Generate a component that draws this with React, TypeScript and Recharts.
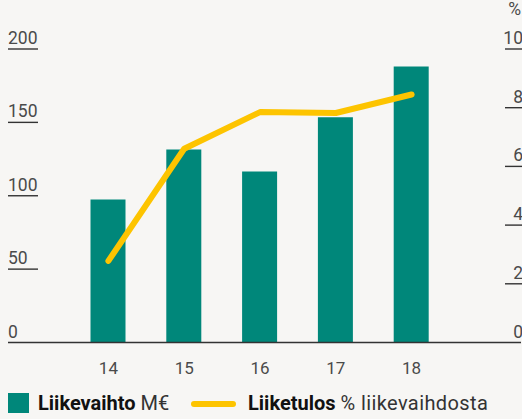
import React from "react";
import { ComposedChart, Bar, Line, XAxis, YAxis } from "recharts";

const years = ["14", "15", "16", "17", "18"];
const revenue = [97.5, 131.5, 116.5, 153.5, 188];
const operatingMargin = [2.78, 6.6, 7.85, 7.82, 8.45];
const leftTicks = [0, 50, 100, 150, 200];
const rightTicks = [0, 2, 4, 6, 8, 10];

const data = years.map((y, i) => ({ year: y, revenue: revenue[i], margin: operatingMargin[i] }));

const BG = "#f7f6f4";
const TEAL = "#00877a";
const YELLOW = "#fdc400";
const FONT = "Roboto, 'Noto Sans', sans-serif";
const TICK_COLOR = "#4a4a4a";

const renderLeftTick = (props: any) => {
  const { x, y, payload } = props;
  return (
    <g key={`l-${payload.value}`}>
      <text x={x} y={y - 5} fontSize={17.5} fontFamily={FONT} fill={TICK_COLOR} textAnchor="start">
        {payload.value}
      </text>
      {payload.value !== 0 && <line x1={x} x2={x + 30} y1={y} y2={y} stroke="#333" strokeWidth={1.4} />}
    </g>
  );
};

const renderRightTick = (props: any) => {
  const { x, y, payload } = props;
  return (
    <g key={`r-${payload.value}`}>
      <text x={x + 2} y={y - 5} fontSize={17.5} fontFamily={FONT} fill={TICK_COLOR} textAnchor="end">
        {payload.value}
      </text>
      {payload.value !== 0 && <line x1={x - 16} x2={x + 1} y1={y} y2={y} stroke="#333" strokeWidth={1.4} />}
    </g>
  );
};

const renderBottomTick = (props: any) => {
  const { x, y, payload } = props;
  return (
    <text key={`b-${payload.value}`} x={x} y={y + 31} fontSize={17} fontFamily={FONT} fill={TICK_COLOR} textAnchor="middle">
      {payload.value}
    </text>
  );
};

export default function App() {
  return (
    <div style={{ position: "absolute", left: 0, top: 0, width: 522, height: 419, background: BG, overflow: "hidden", fontFamily: FONT }}>
      <div style={{ position: "absolute", right: 1, top: 1, fontSize: 17.5, lineHeight: "17.5px", color: TICK_COLOR }}>%</div>
      <ComposedChart
        width={522}
        height={419}
        data={data}
        margin={{ top: 49, right: 0, bottom: 0, left: 7 }}
        barCategoryGap={0}
      >
        <XAxis
          dataKey="year"
          height={76.5}
          tickSize={0}
          tickMargin={0}
          tickLine={false}
          axisLine={{ stroke: "#333", strokeWidth: 1.6 }}
          padding={{ left: 62.5, right: 71.5 }}
          tick={renderBottomTick}
          interval={0}
        />
        <YAxis
          yAxisId="left"
          orientation="left"
          width={1}
          domain={[0, 200]}
          ticks={leftTicks}
          tickSize={0}
          tickMargin={0}
          axisLine={false}
          tickLine={false}
          tick={renderLeftTick}
          interval={0}
        />
        <YAxis
          yAxisId="right"
          orientation="right"
          width={1}
          domain={[0, 10]}
          ticks={rightTicks}
          tickSize={0}
          tickMargin={0}
          axisLine={false}
          tickLine={false}
          tick={renderRightTick}
          interval={0}
        />
        <Bar yAxisId="left" dataKey="revenue" fill={TEAL} barSize={35} isAnimationActive={false} />
        <Line
          yAxisId="right"
          dataKey="margin"
          stroke={YELLOW}
          strokeWidth={6}
          strokeLinecap="round"
          strokeLinejoin="round"
          dot={false}
          activeDot={false}
          type="linear"
          isAnimationActive={false}
        />
      </ComposedChart>
      <div style={{ position: "absolute", left: 8, top: 393, width: 21, height: 20, background: TEAL }} />
      <div style={{ position: "absolute", left: 38, top: 389, fontSize: 20, lineHeight: "28px", color: "#111", whiteSpace: "nowrap" }}>
        <b>Liikevaihto</b> <span style={{ fontWeight: 400, color: "#333" }}>M€</span>
      </div>
      <div style={{ position: "absolute", left: 191, top: 401, width: 45, height: 6, borderRadius: 3, background: YELLOW }} />
      <div style={{ position: "absolute", left: 248, top: 389, fontSize: 20, lineHeight: "28px", color: "#111", whiteSpace: "nowrap" }}>
        <b>Liiketulos</b> <span style={{ fontWeight: 400, color: "#333", letterSpacing: 0.4 }}>% liikevaihdosta</span>
      </div>
    </div>
  );
}
